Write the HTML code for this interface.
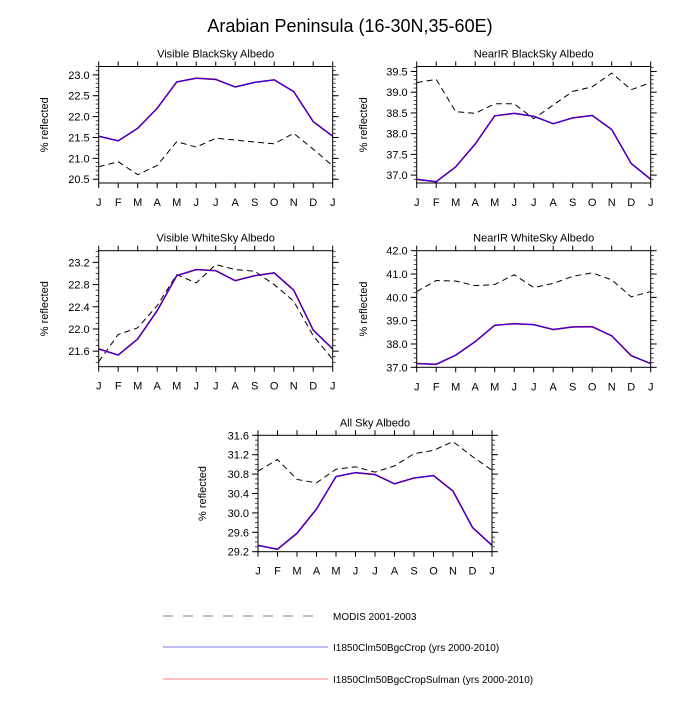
<!DOCTYPE html>
<html><head><meta charset="utf-8"><style>
body{margin:0;background:#fff;}
svg{font-family:"Liberation Sans",sans-serif;}
</style></head><body>
<svg id="c" width="700" height="700" viewBox="0 0 700 700">
<text x="350" y="32" font-size="18" text-anchor="middle">Arabian Peninsula (16-30N,35-60E)</text>
<g>
<line x1="163" y1="616" x2="318" y2="616" stroke="#aaa" stroke-width="1.5" stroke-dasharray="10,10"/>
<text x="333" y="620" font-size="10">MODIS 2001-2003</text>
<line x1="163" y1="647" x2="328" y2="647" stroke="#7777ee" stroke-width="1"/>
<text x="333" y="651" font-size="10">I1850Clm50BgcCrop (yrs 2000-2010)</text>
<line x1="163" y1="679" x2="328" y2="679" stroke="#ffaaaa" stroke-width="1.5"/>
<text x="333" y="683" font-size="10">I1850Clm50BgcCropSulman (yrs 2000-2010)</text>
</g>
</svg>
<script>
const months=["J","F","M","A","M","J","J","A","S","O","N","D","J"];
const visBlackModel=[21.53,21.42,21.72,22.2,22.83,22.92,22.89,22.71,22.82,22.88,22.6,21.88,21.53];
const visBlackObs=[20.8,20.92,20.61,20.83,21.4,21.27,21.48,21.44,21.39,21.35,21.6,21.22,20.82];
const nirBlackModel=[36.9,36.84,37.2,37.75,38.43,38.49,38.42,38.24,38.38,38.44,38.1,37.28,36.9];
const nirBlackObs=[39.23,39.31,38.53,38.49,38.72,38.72,38.36,38.69,39.02,39.13,39.46,39.06,39.23];
const visWhiteModel=[21.64,21.53,21.82,22.33,22.96,23.07,23.05,22.87,22.96,23.01,22.7,21.98,21.64];
const visWhiteObs=[21.41,21.9,22.02,22.42,22.98,22.83,23.16,23.07,23.04,22.8,22.5,21.88,21.45];
const nirWhiteModel=[37.16,37.13,37.52,38.1,38.8,38.87,38.83,38.62,38.73,38.74,38.35,37.5,37.16];
const nirWhiteObs=[40.25,40.72,40.7,40.5,40.55,40.97,40.42,40.6,40.9,41.05,40.75,40.02,40.25];
const allSkyModel=[29.33,29.25,29.58,30.08,30.75,30.83,30.79,30.6,30.72,30.77,30.45,29.7,29.33];
const allSkyObs=[30.86,31.1,30.69,30.62,30.9,30.95,30.84,30.97,31.22,31.29,31.47,31.16,30.88];
const visBlackTicks=[20.5,21.0,21.5,22.0,22.5,23.0];
const nirBlackTicks=[37.0,37.5,38.0,38.5,39.0,39.5];
const visWhiteTicks=[21.6,22.0,22.4,22.8,23.2];
const nirWhiteTicks=[37.0,38.0,39.0,40.0,41.0,42.0];
const allSkyTicks=[29.2,29.6,30.0,30.4,30.8,31.2,31.6];

const NS="http://www.w3.org/2000/svg";
const svg=document.getElementById('c');
function mk(tag,attrs,parent){const e=document.createElementNS(NS,tag);for(const k in attrs)e.setAttribute(k,attrs[k]);parent.appendChild(e);return e;}

const panels=[
 {name:'visible-blacksky',title:'Visible BlackSky Albedo',x0:98.7,x1:332.7,y0:66.5,y1:183,ymin:20.41,ymax:23.2,ticks:visBlackTicks,minor:0.1,dec:1,model:visBlackModel,obs:visBlackObs,tx:48},
 {name:'nearir-blacksky',title:'NearIR BlackSky Albedo',x0:416.7,x1:650.7,y0:66.5,y1:183,ymin:36.81,ymax:39.62,ticks:nirBlackTicks,minor:0.1,dec:1,model:nirBlackModel,obs:nirBlackObs,tx:367},
 {name:'visible-whitesky',title:'Visible WhiteSky Albedo',x0:98.7,x1:332.7,y0:250.7,y1:366.7,ymin:21.32,ymax:23.41,ticks:visWhiteTicks,minor:0.1,dec:1,model:visWhiteModel,obs:visWhiteObs,tx:48},
 {name:'nearir-whitesky',title:'NearIR WhiteSky Albedo',x0:416.7,x1:650.7,y0:250.7,y1:367.3,ymin:37.0,ymax:42.0,ticks:nirWhiteTicks,minor:0.2,dec:1,model:nirWhiteModel,obs:nirWhiteObs,tx:367},
 {name:'all-sky',title:'All Sky Albedo',x0:258,x1:492,y0:435.3,y1:551.7,ymin:29.2,ymax:31.6,ticks:allSkyTicks,minor:0.1,dec:1,model:allSkyModel,obs:allSkyObs,tx:206}
];

panels.forEach(p=>{
 const g=mk('g',{},svg);
 
 
 const xs=i=>p.x0+(p.x1-p.x0)*i/(months.length-1);
 const ys=v=>p.y1-(v-p.ymin)/(p.ymax-p.ymin)*(p.y1-p.y0);
 const t=mk('text',{x:(p.x0+p.x1)/2,y:p.y0-9,'font-size':11,'text-anchor':'middle'},g);t.textContent=p.title;
 
 
 months.forEach((m,i)=>{
  const x=xs(i);
  mk('line',{x1:x,x2:x,y1:p.y0,y2:p.y0-5,stroke:'#000','stroke-width':1},g);
  mk('line',{x1:x,x2:x,y1:p.y1,y2:p.y1+5,stroke:'#000','stroke-width':1},g);
  const l=mk('text',{x:x,y:p.y1+23,'font-size':11,'text-anchor':'middle'},g);l.textContent=m;
  
  
 });
 const start=Math.ceil(p.ymin/p.minor-1e-6);
 for(let k=start;k*p.minor<=p.ymax+1e-6;k++){
  const y=ys(k*p.minor);
  mk('line',{x1:p.x0,x2:p.x0-3,y1:y,y2:y,stroke:'#000','stroke-width':0.7},g);
  mk('line',{x1:p.x1,x2:p.x1+3,y1:y,y2:y,stroke:'#000','stroke-width':0.7},g);
 }
 p.ticks.forEach(v=>{
  const y=ys(v);
  mk('line',{x1:p.x0,x2:p.x0-6,y1:y,y2:y,stroke:'#000','stroke-width':1},g);
  mk('line',{x1:p.x1,x2:p.x1+6,y1:y,y2:y,stroke:'#000','stroke-width':1},g);
  const l=mk('text',{x:p.x0-9,y:y+4,'font-size':11,'text-anchor':'end'},g);l.textContent=v.toFixed(p.dec);
  
  
 });
 const yt=mk('text',{x:p.tx,y:(p.y0+p.y1)/2,'font-size':11,'text-anchor':'middle',transform:`rotate(-90 ${p.tx} ${(p.y0+p.y1)/2})`},g);yt.textContent='% reflected';
 
 
 const pts=a=>a.map((v,i)=>xs(i).toFixed(2)+','+ys(v).toFixed(2)).join(' ');
 const o=mk('polyline',{points:pts(p.obs),fill:'none',stroke:'#000','stroke-width':1,'stroke-dasharray':'6,4'},g);
 
 
 const r=mk('polyline',{points:pts(p.model),fill:'none',stroke:'#ff0000','stroke-width':1.6},g);
 
 
 const b=mk('polyline',{points:pts(p.model),fill:'none',stroke:'#2200ee','stroke-width':1.2},g);
 
 
 const box=mk('rect',{x:p.x0,y:p.y0,width:p.x1-p.x0,height:p.y1-p.y0,fill:'none',stroke:'#000','stroke-width':1},g);
 
 
});
</script>
</body></html>
